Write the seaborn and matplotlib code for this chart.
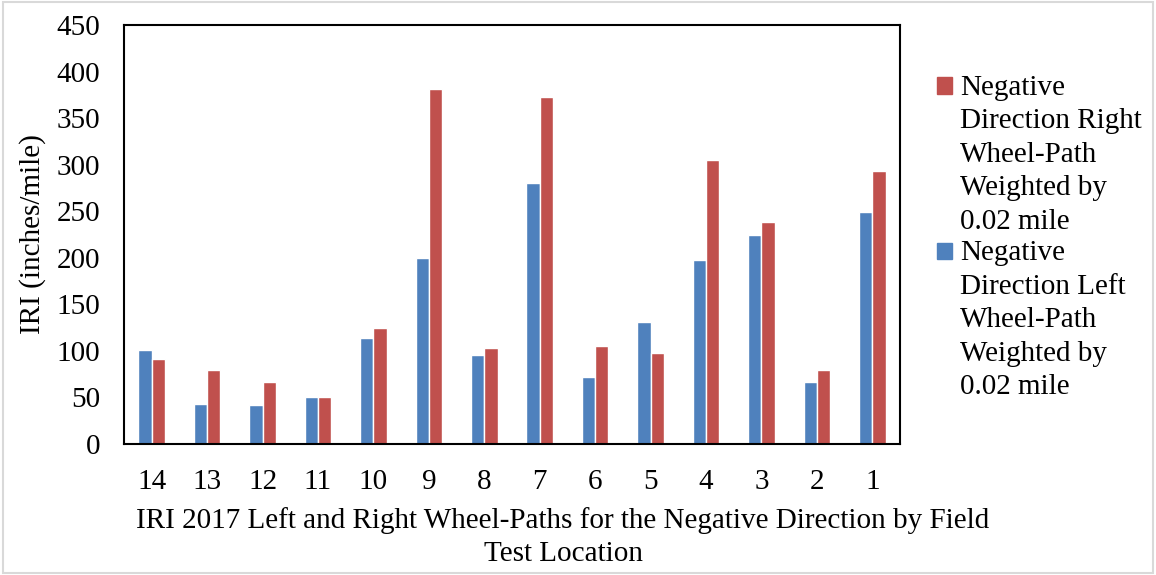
import numpy as np
import pandas as pd
import matplotlib
matplotlib.use("Agg")
import matplotlib.pyplot as plt
import matplotlib.patches as mpatches
from matplotlib.legend_handler import HandlerPatch
import seaborn as sns

# =====================================
# DATA
# =====================================
locations = ["14", "13", "12", "11", "10", "9", "8", "7", "6", "5", "4", "3", "2", "1"]
left_iri = [101, 43, 42, 50, 114, 200, 96, 280, 72, 131, 198, 224, 67, 249]
right_iri = [91, 80, 67, 50, 125, 381, 103, 373, 105, 98, 305, 238, 80, 293]

left_name = "Negative\nDirection Left\nWheel-Path\nWeighted by\n0.02 mile"
right_name = "Negative\nDirection Right\nWheel-Path\nWeighted by\n0.02 mile"
colors = {left_name: "#4F81BD", right_name: "#C0504D"}

df = pd.DataFrame({
    "location": locations * 2,
    "iri": left_iri + right_iri,
    "series": [left_name] * len(locations) + [right_name] * len(locations),
})

FS = 21
LINESP = 1.37

# =====================================
# PLOT
# =====================================
sns.set_style("white")
plt.rcParams["font.family"] = ["Liberation Serif", "DejaVu Serif"]
plt.rcParams["text.color"] = "black"
plt.rcParams["axes.labelcolor"] = "black"
plt.rcParams["xtick.color"] = "black"
plt.rcParams["ytick.color"] = "black"

fig = plt.figure(figsize=(11.56, 5.75), dpi=100)
ax = fig.add_axes([124 / 1156, 1 - 444 / 575, 776 / 1156, 419 / 575])

sns.barplot(data=df, x="location", y="iri", hue="series", order=locations,
            hue_order=[left_name, right_name], palette=colors, width=0.48,
            saturation=1, ax=ax, legend=False)

ax.set_ylim(0, 450)
ax.set_yticks(np.arange(0, 451, 50))
ax.tick_params(axis="y", length=0, pad=17, labelsize=FS)
ax.tick_params(axis="x", length=0, pad=18, labelsize=FS)

ax.set_ylabel("IRI (inches/mile)", fontsize=FS)
ax.yaxis.set_label_coords((33 - 124) / 776, 0.5)
ax.yaxis.label.set_va("center")
ax.set_xlabel("IRI 2017 Left and Right Wheel-Paths for the Negative Direction by Field\nTest Location",
              fontsize=FS, linespacing=1.35)
ax.xaxis.set_label_coords((563 - 124) / 776, -63 / 419)
ax.xaxis.label.set_va("top")

for side in ["top", "bottom", "left", "right"]:
    ax.spines[side].set_visible(True)
    ax.spines[side].set_color("black")
    ax.spines[side].set_linewidth(1.5)


# legend marker sits next to the first line of each label
def top_patch(legend, orig_handle, xdescent, ydescent, width, height, fontsize):
    shift = 2 * 0.864 * LINESP * fontsize
    return mpatches.Rectangle((-xdescent, -ydescent + shift), width, height)


handles = [mpatches.Patch(color=colors[right_name], label=right_name),
           mpatches.Patch(color=colors[left_name], label=left_name)]
leg = fig.legend(handles=handles, loc="upper left", bbox_to_anchor=(937 / 1156, 1 - 75 / 575),
                 frameon=False, fontsize=FS, handlelength=0.5, handleheight=0.5,
                 handletextpad=0.3, labelspacing=0.2, borderpad=0, borderaxespad=0,
                 handler_map={mpatches.Patch: HandlerPatch(patch_func=top_patch)})
for t in leg.get_texts():
    t.set_linespacing(LINESP)

# light border around the chart
fig.patches.append(mpatches.Rectangle((0.003, 0.003), 0.994, 0.994, transform=fig.transFigure,
                                      fill=False, edgecolor="#D9D9D9", linewidth=1.5))

plt.savefig("out.png", dpi=100)
plt.close()
